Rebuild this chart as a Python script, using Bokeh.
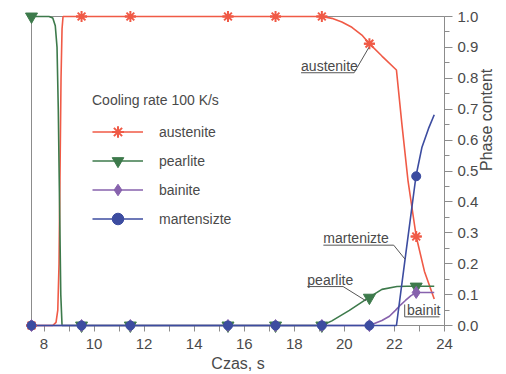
import math
from bokeh.plotting import figure
from bokeh.models import FixedTicker, PrintfTickFormatter, Legend, LegendItem, Label
from bokeh.embed import file_html
from bokeh.resources import INLINE

# ---------------- data ----------------
marker_time = [7.5, 9.5, 11.45, 15.35, 17.25, 19.1, 21.0, 22.87]
austenite_marks = [0.0, 1.0, 1.0, 1.0, 1.0, 1.0, 0.912, 0.288]
pearlite_marks = [1.0, 0.0, 0.0, 0.0, 0.0, 0.0, 0.09, 0.126]
bainite_marks = [0.0, 0.0, 0.0, 0.0, 0.0, 0.0, 0.0, 0.107]
martensite_marks = [0.0, 0.0, 0.0, 0.0, 0.0, 0.0, 0.0, 0.483]

austenite_t = [7.5, 8.35, 8.48, 8.55, 8.6, 8.64, 8.68, 8.72, 8.76, 19.1, 19.5, 19.9,
               20.3, 20.7, 21.0, 21.5, 22.08, 22.3, 22.54, 22.87, 23.2, 23.59]
austenite_v = [0.0, 0.0, 0.01, 0.05, 0.2, 0.5, 0.8, 0.96, 1.0, 1.0, 0.994, 0.982,
               0.965, 0.94, 0.912, 0.872, 0.827, 0.65, 0.47, 0.288, 0.175, 0.086]

pearlite_t = [7.5, 8.2, 8.35, 8.45, 8.52, 8.57, 8.62, 8.67, 8.72, 19.1, 19.5, 20.2,
              20.85, 21.0, 21.5, 22.1, 22.5, 23.59]
pearlite_v = [1.0, 1.0, 0.995, 0.97, 0.9, 0.7, 0.4, 0.1, 0.0, 0.0, 0.015, 0.049,
              0.084, 0.092, 0.117, 0.126, 0.127, 0.127]

bainite_t = [7.5, 21.0, 21.5, 21.8, 22.04, 22.25, 22.44, 22.65, 22.87, 23.59]
bainite_v = [0.0, 0.0, 0.016, 0.03, 0.049, 0.067, 0.081, 0.096, 0.107, 0.107]

martensite_t = [7.5, 22.08, 22.45, 22.86, 23.1, 23.36, 23.59]
martensite_v = [0.0, 0.0, 0.23, 0.483, 0.577, 0.637, 0.682]

x_major_ticks = [8, 10, 12, 14, 16, 18, 20, 22, 24]
x_minor_ticks = [9, 11, 13, 15, 17, 19, 21, 23]
y_major_ticks = [0.0, 0.1, 0.2, 0.3, 0.4, 0.5, 0.6, 0.7, 0.8, 0.9, 1.0]
y_minor_ticks = [0.05, 0.15, 0.25, 0.35, 0.45, 0.55, 0.65, 0.75, 0.85, 0.95]

series_names = ["austenite", "pearlite", "bainite", "martensizte"]
legend_title = "Cooling rate 100 K/s"

# callout annotations: text, text anchor, leader polyline
callout_text = ["austenite", "martenizte", "pearlite", "bainit"]
callout_anchor_t = [18.27, 19.16, 18.52, 22.5]
callout_anchor_v = [0.818, 0.26, 0.126, 0.028]
callout_leader_t = [[18.27, 20.39, 20.98], [19.16, 21.97, 22.42],
                    [18.52, 19.95, 20.86], [22.41, 22.41, 23.8]]
callout_leader_v = [[0.818, 0.818, 0.9], [0.26, 0.26, 0.215],
                    [0.126, 0.126, 0.08], [0.068, 0.028, 0.028]]

# ---------------- styling ----------------
RED = "#f05a46"
GREEN = "#3d7a4b"
PURPLE = "#8762ad"
BLUE = "#3c4ca0"
GRAY = "#8c8c8c"
TXT = "#4a4a4a"
FONT = "Liberation Sans"

p = figure(width=506, height=374, x_range=(7.5, 24), y_range=(0, 1),
           y_axis_location="right", output_backend="svg", toolbar_location=None,
           min_border_left=31, min_border_right=60, min_border_top=16, min_border_bottom=49)
p.xgrid.visible = False
p.ygrid.visible = False
p.outline_line_color = GRAY
p.outline_line_width = 1

for ax in (p.xaxis[0], p.yaxis[0]):
    ax.axis_line_color = GRAY
    ax.major_tick_line_color = GRAY
    ax.minor_tick_line_color = GRAY
    ax.major_tick_in = 0
    ax.minor_tick_in = 0
    ax.major_label_text_font = FONT
    ax.major_label_text_font_size = "15px"
    ax.major_label_text_color = TXT
    ax.axis_label_text_font = FONT
    ax.axis_label_text_font_size = "16px"
    ax.axis_label_text_font_style = "normal"
    ax.axis_label_text_color = TXT

xa = p.xaxis[0]
xa.ticker = FixedTicker(ticks=x_major_ticks, minor_ticks=x_minor_ticks)
xa.major_tick_out = 6
xa.minor_tick_out = 6
xa.major_label_standoff = 7
xa.axis_label = "Czas, s"
xa.axis_label_standoff = 3

ya = p.yaxis[0]
ya.ticker = FixedTicker(ticks=y_major_ticks, minor_ticks=y_minor_ticks)
ya.formatter = PrintfTickFormatter(format="%.1f")
ya.major_tick_out = 8
ya.minor_tick_out = 5
ya.major_label_standoff = 5
ya.axis_label = "Phase content"
ya.axis_label_standoff = 5
if "axis_label_orientation" in ya.properties():
    ya.axis_label_orientation = math.pi / 2

LW = 1.6
lvl = "annotation"
r_al = p.line(austenite_t, austenite_v, line_color=RED, line_width=LW, level=lvl)
r_pl = p.line(pearlite_t, pearlite_v, line_color=GREEN, line_width=LW, level=lvl)
r_bl = p.line(bainite_t, bainite_v, line_color=PURPLE, line_width=LW, level=lvl)
r_ml = p.line(martensite_t, martensite_v, line_color=BLUE, line_width=LW, level=lvl)

r_as1 = p.scatter(marker_time, austenite_marks, marker="asterisk", size=11,
                  line_color=RED, line_width=2, level=lvl)
r_as2 = p.scatter(marker_time, austenite_marks, marker="dash", size=11,
                  line_color=RED, line_width=2, level=lvl)
r_ps = p.scatter(marker_time, pearlite_marks, marker="inverted_triangle", size=12,
                 fill_color=GREEN, line_color=GREEN, level=lvl)
r_bs = p.scatter(marker_time, bainite_marks, marker="diamond", size=12,
                 fill_color=PURPLE, line_color=PURPLE, level=lvl)
r_ms = p.scatter(marker_time, martensite_marks, marker="circle", size=9,
                 fill_color=BLUE, line_color=BLUE, level=lvl)

# callouts
for txt, tx, ty, lx, ly in zip(callout_text, callout_anchor_t, callout_anchor_v,
                               callout_leader_t, callout_leader_v):
    p.line(lx, ly, line_color="#555555", line_width=1, level=lvl)
    p.add_layout(Label(x=tx, y=ty, y_offset=7, text=txt, text_align="left",
                       text_baseline="alphabetic", text_font=FONT,
                       text_font_size="14px", text_color=TXT))

legend = Legend(items=[
    LegendItem(label=series_names[0], renderers=[r_al, r_as1, r_as2]),
    LegendItem(label=series_names[1], renderers=[r_pl, r_ps]),
    LegendItem(label=series_names[2], renderers=[r_bl, r_bs]),
    LegendItem(label=series_names[3], renderers=[r_ml, r_ms]),
], title=legend_title, location=(61, 92))
legend.border_line_color = None
legend.background_fill_alpha = 0
legend.padding = 0
legend.margin = 0
legend.glyph_width = 51
legend.glyph_height = 29
legend.spacing = 0
legend.label_standoff = 16
legend.label_text_font = FONT
legend.label_text_font_size = "14px"
legend.label_text_color = TXT
legend.title_text_font = FONT
legend.title_text_font_size = "14px"
legend.title_text_font_style = "normal"
legend.title_text_color = TXT
legend.title_standoff = 9
p.add_layout(legend)

open("out.html", "w").write(file_html(p, INLINE))
